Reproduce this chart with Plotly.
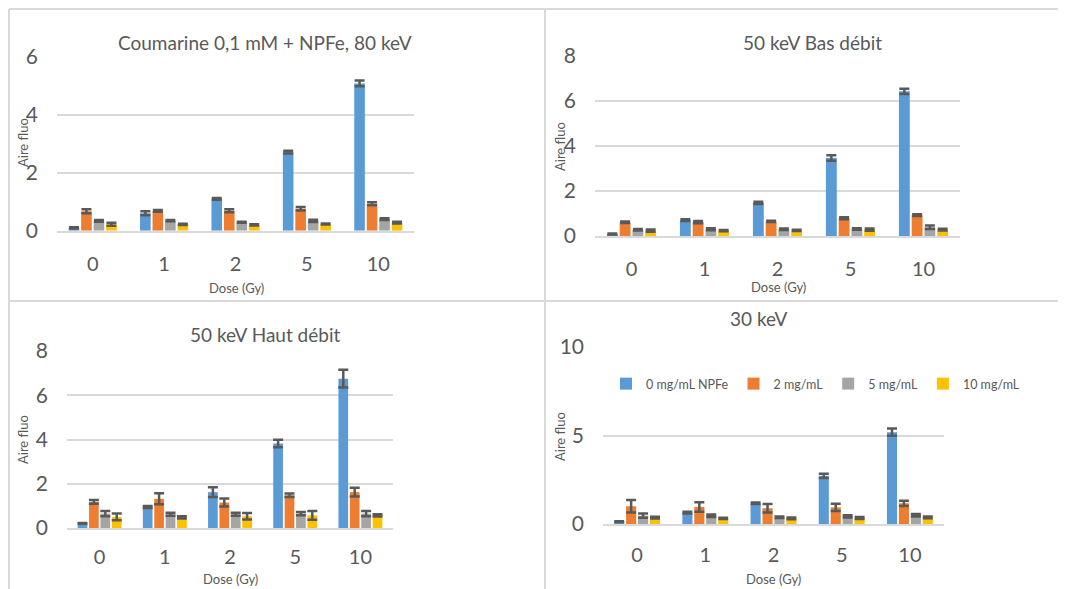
import plotly.graph_objects as go

# page body adds an 8px margin, so the figure starts at (8, 8) in the window
OFF = 8
W, H = 1066 - OFF, 589 - OFF

DOSES = ["0", "1", "2", "5", "10"]
SERIES = ["0 mg/mL NPFe", "2 mg/mL", "5 mg/mL", "10 mg/mL"]
COLORS = ["#5B9BD5", "#ED7D31", "#A5A5A5", "#FFC000"]

# Coumarine 0,1 mM + NPFe, 80 keV
KEV80_Y = [[0.10, 0.60, 1.10, 2.71, 5.08],
           [0.67, 0.68, 0.69, 0.76, 0.93],
           [0.34, 0.35, 0.29, 0.34, 0.40],
           [0.22, 0.22, 0.20, 0.23, 0.28]]
KEV80_ERR = [[0.02, 0.07, 0.03, 0.05, 0.10],
             [0.07, 0.03, 0.05, 0.06, 0.05],
             [0.03, 0.02, 0.02, 0.04, 0.03],
             [0.05, 0.02, 0.02, 0.02, 0.03]]

# 50 keV Bas débit
KEV50B_Y = [[0.09, 0.71, 1.47, 3.47, 6.43],
            [0.61, 0.62, 0.65, 0.79, 0.93],
            [0.28, 0.30, 0.30, 0.31, 0.39],
            [0.24, 0.24, 0.25, 0.28, 0.28]]
KEV50B_ERR = [[0.02, 0.04, 0.05, 0.12, 0.12],
              [0.03, 0.05, 0.03, 0.04, 0.04],
              [0.03, 0.04, 0.03, 0.03, 0.08],
              [0.05, 0.03, 0.03, 0.05, 0.04]]

# 50 keV Haut débit
KEV50H_Y = [[0.21, 0.95, 1.62, 3.82, 6.75],
            [1.18, 1.32, 1.15, 1.48, 1.62],
            [0.65, 0.62, 0.62, 0.65, 0.65],
            [0.50, 0.48, 0.53, 0.57, 0.57]]
KEV50H_ERR = [[0.02, 0.05, 0.22, 0.17, 0.40],
              [0.08, 0.25, 0.18, 0.08, 0.20],
              [0.12, 0.07, 0.07, 0.07, 0.12],
              [0.15, 0.05, 0.15, 0.20, 0.05]]

# 30 keV
KEV30_Y = [[0.13, 0.64, 1.17, 2.72, 5.19],
           [1.00, 0.96, 0.89, 0.94, 1.17],
           [0.47, 0.47, 0.38, 0.43, 0.49],
           [0.36, 0.32, 0.32, 0.34, 0.38]]
KEV30_ERR = [[0.02, 0.05, 0.04, 0.12, 0.20],
             [0.35, 0.27, 0.24, 0.20, 0.15],
             [0.12, 0.07, 0.04, 0.06, 0.07],
             [0.05, 0.04, 0.05, 0.06, 0.05]]

TXT = "#595959"
GRID = "#D9D9D9"
FONT = "Lato, 'Open Sans', sans-serif"


def px_x(v):
    return (v - OFF) / W


def px_y(v):
    return 1 - (v - OFF) / H


# title, values, errors, plot left/right, top/bottom (window px), ymax, dtick,
# x tick standoff, title / y-title / x-title centres
PANELS = [
    ("Coumarine 0,1 mM + NPFe, 80 keV", KEV80_Y, KEV80_ERR, 57, 414, 56.7, 230.7, 6, 2, 14,
     (265, 43), (23, 143), (236, 288)),
    ("50 keV Bas débit", KEV50B_Y, KEV50B_ERR, 595, 960, 56, 236, 8, 2, 14,
     (812, 43), (560, 147), (778, 287)),
    ("50 keV Haut débit", KEV50H_Y, KEV50H_ERR, 67, 393, 351, 528, 8, 2, 10,
     (265, 334), (23, 440), (230, 579)),
    ("30 keV", KEV30_Y, KEV30_ERR, 603, 944, 347, 524, 10, 5, 12,
     (759, 318), (560, 437), (773, 579)),
]

fig = go.Figure()
annotations = []
for i, (title, ys, errs, x0, x1, yt, yb, ymax, dt, xsoff, tpos, ylpos, xlpos) in enumerate(PANELS):
    n = "" if i == 0 else str(i + 1)
    for s in range(4):
        fig.add_trace(go.Bar(
            x=DOSES, y=ys[s], name=SERIES[s],
            marker=dict(color=COLORS[s], line=dict(width=0)),
            error_y=dict(type="data", array=errs[s], color=TXT, thickness=2.5, width=5),
            xaxis="x" + n, yaxis="y" + n,
            showlegend=(i == 3), legendgroup=SERIES[s],
        ))
    fig.update_layout(**{
        "xaxis" + n: dict(domain=[px_x(x0), px_x(x1)], anchor="y" + n, type="category",
                          showline=True, linecolor=GRID, linewidth=2, showgrid=False,
                          automargin=False, ticks="",
                          tickfont=dict(size=20, color=TXT), ticklabelstandoff=xsoff),
        "yaxis" + n: dict(domain=[px_y(yb), px_y(yt)], anchor="x" + n, range=[0, ymax],
                          dtick=dt, showgrid=True, gridcolor=GRID, gridwidth=1.5,
                          zeroline=False, automargin=False, ticks="",
                          tickfont=dict(size=21, color=TXT), ticklabelstandoff=18),
    })
    common = dict(xref="paper", yref="paper", showarrow=False,
                  xanchor="center", yanchor="middle")
    annotations.append(dict(text=title, x=px_x(tpos[0]), y=px_y(tpos[1]),
                            font=dict(size=19, color=TXT), **common))
    annotations.append(dict(text="Aire fluo", x=px_x(ylpos[0]), y=px_y(ylpos[1]),
                            textangle=-90, font=dict(size=13, color=TXT), **common))
    annotations.append(dict(text="Dose (Gy)", x=px_x(xlpos[0]), y=px_y(xlpos[1]),
                            font=dict(size=13, color=TXT), **common))

line = dict(color=GRID, width=2)
shapes = [
    dict(type="line", xref="paper", yref="paper", x0=px_x(9), x1=1, y0=px_y(9), y1=px_y(9), line=line),
    dict(type="line", xref="paper", yref="paper", x0=px_x(9), x1=px_x(9), y0=0, y1=px_y(9), line=line),
    dict(type="line", xref="paper", yref="paper", x0=px_x(545), x1=px_x(545), y0=0, y1=px_y(9), line=line),
    dict(type="line", xref="paper", yref="paper", x0=px_x(9), x1=1, y0=px_y(301), y1=px_y(301), line=line),
]

fig.update_layout(
    width=W, height=H, margin=dict(l=0, r=0, t=0, b=0),
    paper_bgcolor="white", plot_bgcolor="white",
    font=dict(family=FONT, color=TXT),
    barmode="group", bargap=0.3, bargroupgap=0.15,
    annotations=annotations, shapes=shapes,
    legend=dict(orientation="h", x=px_x(606), y=px_y(384), xanchor="left", yanchor="middle",
                font=dict(size=12.5, color=TXT), bgcolor="rgba(0,0,0,0)",
                itemwidth=30, tracegroupgap=0),
)

fig.write_html("out.html")
